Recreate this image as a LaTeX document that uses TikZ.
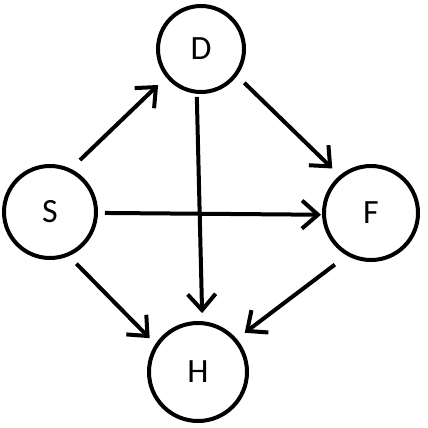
\documentclass[tikz,border=0pt]{standalone}
\usepackage{fontspec}
\setmainfont{Carlito}
\usetikzlibrary{arrows.meta,calc}
\begin{document}
\begin{tikzpicture}[x=1pt,y=-1pt,
  vertex/.style={circle,draw,line width=4pt,inner sep=0pt,minimum size=#1,font=\fontsize{34}{36}\selectfont},
  arr/.style={line width=4pt,-{Straight Barb[length=16pt,width=28pt]}}]
\useasboundingbox (0,0) rectangle (428,428);
\node[vertex=92pt] (S) at (50,212) {S};
\node[vertex=86pt] (D) at (201,49) {D};
\node[vertex=94pt] (F) at (371,213) {F};
\node[vertex=98pt] (H) at (198,372) {H};
\draw[arr] ($(S)+(60:60pt)$) -- ($(D)+(220:56pt)$);
\draw[arr] ($(D)+(-38:55pt)$) -- ($(F)+(131:59pt)$);
\draw[arr] ($(S)+(-1:55pt)$) -- ($(F)+(182:50pt)$);
\draw[arr] ($(D)+(265:48pt)$) -- ($(H)+(86:59pt)$);
\draw[arr] ($(S)+(297:58pt)$) -- ($(H)+(145:59pt)$);
\draw[arr] ($(F)+(235:63pt)$) -- ($(H)+(40:61pt)$);
\end{tikzpicture}
\end{document}
